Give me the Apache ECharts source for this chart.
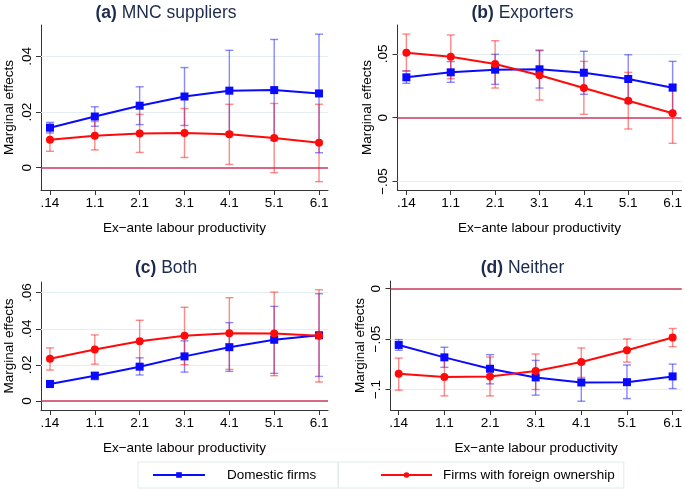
<!DOCTYPE html>
<html>
<head>
<meta charset="utf-8">
<script src="https://cdn.jsdelivr.net/npm/echarts@6/dist/echarts.min.js"></script>
<style>html,body{margin:0;padding:0;background:#fff;}#chart{width:685px;height:489px;}</style>
</head>
<body>
<div id="chart"></div>
<script>
// ---- data ----
const xTickLabels = ['.14', '1.1', '2.1', '3.1', '4.1', '5.1', '6.1'];
const xIndex = [0, 1, 2, 3, 4, 5, 6];

// (a) MNC suppliers
const aDom   = [0.0144, 0.0184, 0.0223, 0.0256, 0.0277, 0.0279, 0.0267];
const aDomLo = [0.0125, 0.0149, 0.0155, 0.0152, 0.0128, 0.0097, 0.0054];
const aDomHi = [0.0163, 0.0219, 0.0291, 0.0360, 0.0422, 0.0461, 0.0480];
const aFor   = [0.0101, 0.0115, 0.0123, 0.0125, 0.0120, 0.0107, 0.0090];
const aForLo = [0.0059, 0.0064, 0.0055, 0.0037, 0.0012, -0.0018, -0.0050];
const aForHi = [0.0143, 0.0166, 0.0192, 0.0213, 0.0228, 0.0231, 0.0228];
const aYTicks = [0, 0.02, 0.04];
const aYLabels = ['0', '.02', '.04'];

// (b) Exporters
const bDom   = [0.0316, 0.0355, 0.0376, 0.0379, 0.0352, 0.0303, 0.0235];
const bDomLo = [0.0269, 0.0277, 0.0261, 0.0232, 0.0183, 0.0113, 0.0030];
const bDomHi = [0.0366, 0.0439, 0.0496, 0.0525, 0.0520, 0.0493, 0.0441];
const bFor   = [0.0509, 0.0478, 0.0420, 0.0332, 0.0232, 0.0133, 0.0034];
const bForLo = [0.0366, 0.0305, 0.0232, 0.0138, 0.0026, -0.0089, -0.0201];
const bForHi = [0.0655, 0.0648, 0.0603, 0.0530, 0.0441, 0.0355, 0.0264];
const bYTicks = [-0.05, 0, 0.05];
const bYLabels = ['\u2212.05', '0', '.05'];

// (c) Both
const cDom   = [0.0094, 0.0140, 0.0190, 0.0247, 0.0298, 0.0339, 0.0364];
const cDomLo = [0.0075, 0.0118, 0.0144, 0.0160, 0.0164, 0.0153, 0.0136];
const cDomHi = [0.0113, 0.0158, 0.0239, 0.0333, 0.0434, 0.0524, 0.0594];
const cFor   = [0.0234, 0.0285, 0.0331, 0.0361, 0.0375, 0.0374, 0.0361];
const cForLo = [0.0171, 0.0204, 0.0201, 0.0201, 0.0175, 0.0140, 0.0105];
const cForHi = [0.0294, 0.0366, 0.0447, 0.0519, 0.0572, 0.0603, 0.0616];
const cYTicks = [0, 0.02, 0.04, 0.06];
const cYLabels = ['0', '.02', '.04', '.06'];

// (d) Neither
const dDom   = [-0.0558, -0.0681, -0.0794, -0.0880, -0.0930, -0.0927, -0.0870];
const dDomLo = [-0.0611, -0.0780, -0.0944, -0.1056, -0.1116, -0.1090, -0.0990];
const dDomHi = [-0.0505, -0.0581, -0.0654, -0.0711, -0.0744, -0.0757, -0.0748];
const dFor   = [-0.0844, -0.0877, -0.0870, -0.0817, -0.0728, -0.0611, -0.0485];
const dForLo = [-0.1007, -0.1063, -0.1063, -0.1000, -0.0880, -0.0728, -0.0575];
const dForHi = [-0.0688, -0.0691, -0.0678, -0.0648, -0.0588, -0.0498, -0.0395];
const dYTicks = [-0.1, -0.05, 0];
const dYLabels = ['\u2212.1', '\u2212.05', '0'];

const panelTitles = [['(a)', 'MNC suppliers'], ['(b)', 'Exporters'], ['(c)', 'Both'], ['(d)', 'Neither']];
const seriesNames = ['Domestic firms', 'Firms with foreign ownership'];
const xAxisTitle = 'Ex\u2212ante labour productivity';
const yAxisTitle = 'Marginal effects';

// ---- styling / layout ----
const FONT = '"Liberation Sans", Arial, Helvetica, sans-serif';
const BLUE = '#0a0aff';
const RED = '#ff0a0a';
const BLUE_CI = 'rgba(20,20,255,0.5)';
const RED_CI = 'rgba(255,20,20,0.5)';
const ZERO = '#c8385c';
const GRIDC = '#e4eef0';
const AXISC = '#333333';
const TITLEC = '#1c2b4c';

const panels = [
  { grid: {left: 41, top: 25, width: 287, height: 165}, xMin: -0.2, xMax: 6.2, yMin: -0.008, yMax: 0.0513,
    dom: aDom, domLo: aDomLo, domHi: aDomHi, fr: aFor, frLo: aForLo, frHi: aForHi, yTicks: aYTicks, yLabels: aYLabels,
    titleX: 166, titleY: 4, nameGap: 25 },
  { grid: {left: 397.5, top: 25, width: 287.5, height: 165}, xMin: -0.2, xMax: 6.2, yMin: -0.0567, yMax: 0.0726,
    dom: bDom, domLo: bDomLo, domHi: bDomHi, fr: bFor, frLo: bForLo, frHi: bForHi, yTicks: bYTicks, yLabels: bYLabels,
    titleX: 522.5, titleY: 4, nameGap: 23 },
  { grid: {left: 41, top: 282, width: 287, height: 128}, xMin: -0.2, xMax: 6.2, yMin: -0.005, yMax: 0.0659,
    dom: cDom, domLo: cDomLo, domHi: cDomHi, fr: cFor, frLo: cForLo, frHi: cForHi, yTicks: cYTicks, yLabels: cYLabels,
    titleX: 166, titleY: 259, nameGap: 25 },
  { grid: {left: 390.5, top: 281, width: 294.5, height: 129}, xMin: -0.18, xMax: 6.2, yMin: -0.1203, yMax: 0.0076,
    dom: dDom, domLo: dDomLo, domHi: dDomHi, fr: dFor, frLo: dForLo, frHi: dForHi, yTicks: dYTicks, yLabels: dYLabels,
    titleX: 522.5, titleY: 259, nameGap: 23 }
];

function ciRender(color) {
  return function (params, api) {
    const x = api.value(0), lo = api.value(1), hi = api.value(2);
    const pLo = api.coord([x, lo]);
    const pHi = api.coord([x, hi]);
    const w = 4;
    const style = { stroke: color, lineWidth: 1.4, fill: null };
    return { type: 'group', children: [
      { type: 'line', shape: { x1: pLo[0], y1: pLo[1], x2: pHi[0], y2: pHi[1] }, style: style },
      { type: 'line', shape: { x1: pLo[0] - w, y1: pLo[1], x2: pLo[0] + w, y2: pLo[1] }, style: style },
      { type: 'line', shape: { x1: pHi[0] - w, y1: pHi[1], x2: pHi[0] + w, y2: pHi[1] }, style: style }
    ]};
  };
}

const option = { animation: false, backgroundColor: '#fff', grid: [], xAxis: [], yAxis: [], series: [], title: [] };

panels.forEach(function (p, k) {
  option.grid.push(Object.assign({ containLabel: false }, p.grid));
  option.title.push({
    text: '{b|' + panelTitles[k][0] + '} ' + panelTitles[k][1],
    left: p.titleX, top: p.titleY, textAlign: 'center', padding: 0,
    textStyle: { fontFamily: FONT, fontSize: 17.5, fontWeight: 'normal', color: TITLEC,
      rich: { b: { fontFamily: FONT, fontSize: 17.5, fontWeight: 'bold', color: TITLEC } } }
  });
  option.xAxis.push({
    type: 'value', gridIndex: k, min: p.xMin, max: p.xMax,
    name: xAxisTitle, nameLocation: 'middle', nameGap: 31,
    nameTextStyle: { fontFamily: FONT, fontSize: 13.5, color: '#000' },
    axisLine: { show: true, onZero: false, lineStyle: { color: AXISC, width: 1 } },
    axisTick: { show: true, length: 5, customValues: xIndex, lineStyle: { color: AXISC } },
    axisLabel: { customValues: xIndex, margin: 6, fontFamily: FONT, fontSize: 13.5, color: '#000',
      formatter: function (v) { return xTickLabels[Math.round(v)]; } },
    splitLine: { show: false }
  });
  const yT = p.yTicks, yL = p.yLabels;
  option.yAxis.push({
    type: 'value', gridIndex: k, min: p.yMin, max: p.yMax,
    name: yAxisTitle, nameLocation: 'middle', nameGap: p.nameGap, nameRotate: 90,
    nameTextStyle: { fontFamily: FONT, fontSize: 13.5, color: '#000' },
    axisLine: { show: true, onZero: false, lineStyle: { color: AXISC, width: 1 } },
    axisTick: { show: true, length: 5, customValues: yT, lineStyle: { color: AXISC } },
    axisLabel: { customValues: yT, rotate: 90, margin: 7, fontFamily: FONT, fontSize: 13.5, color: '#000',
      formatter: function (v) {
        for (let i = 0; i < yT.length; i++) { if (Math.abs(v - yT[i]) < 1e-9) return yL[i]; }
        return '';
      } },
    splitLine: { show: false }
  });
  const gridLines = yT.map(function (t) {
    return { yAxis: t, lineStyle: { color: t === 0 ? ZERO : GRIDC, width: t === 0 ? 1.5 : 1, type: 'solid' } };
  });
  option.series.push({
    type: 'custom', name: 'dom-ci', xAxisIndex: k, yAxisIndex: k, z: 2,
    renderItem: ciRender(BLUE_CI), encode: { x: 0, y: [1, 2] },
    data: xIndex.map(function (i) { return [i, p.domLo[i], p.domHi[i]]; }),
    markLine: { silent: true, symbol: ['none', 'none'], label: { show: false }, animation: false, data: gridLines, z: 1 }
  });
  option.series.push({
    type: 'custom', name: 'for-ci', xAxisIndex: k, yAxisIndex: k, z: 3,
    renderItem: ciRender(RED_CI), encode: { x: 0, y: [1, 2] },
    data: xIndex.map(function (i) { return [i, p.frLo[i], p.frHi[i]]; })
  });
  option.series.push({
    type: 'line', name: seriesNames[0], xAxisIndex: k, yAxisIndex: k, z: 4,
    data: xIndex.map(function (i) { return [i, p.dom[i]]; }),
    symbol: 'rect', symbolSize: 8, showSymbol: true,
    lineStyle: { color: BLUE, width: 2 }, itemStyle: { color: BLUE }
  });
  option.series.push({
    type: 'line', name: seriesNames[1], xAxisIndex: k, yAxisIndex: k, z: 5,
    data: xIndex.map(function (i) { return [i, p.fr[i]]; }),
    symbol: 'circle', symbolSize: 8, showSymbol: true,
    lineStyle: { color: RED, width: 2 }, itemStyle: { color: RED }
  });
});

option.legend = [
  { data: [seriesNames[0]], left: 138, top: 462, selectedMode: false, padding: [5, 22, 5, 14],
    itemWidth: 52, itemHeight: 7, borderColor: '#e2eaec', borderWidth: 1,
    textStyle: { fontFamily: FONT, fontSize: 13.5, color: '#000', padding: [0, 0, 0, 17], lineHeight: 16 } },
  { data: [seriesNames[1]], left: 338, top: 462, selectedMode: false, padding: [5, 9, 5, 42],
    itemWidth: 51, itemHeight: 7, borderColor: '#e2eaec', borderWidth: 1,
    textStyle: { fontFamily: FONT, fontSize: 13.5, color: '#000', padding: [0, 0, 0, 6], lineHeight: 16 } }
];

const chart = echarts.init(document.getElementById('chart'), null, { renderer: 'canvas' });
chart.setOption(option);
</script>
</body>
</html>
